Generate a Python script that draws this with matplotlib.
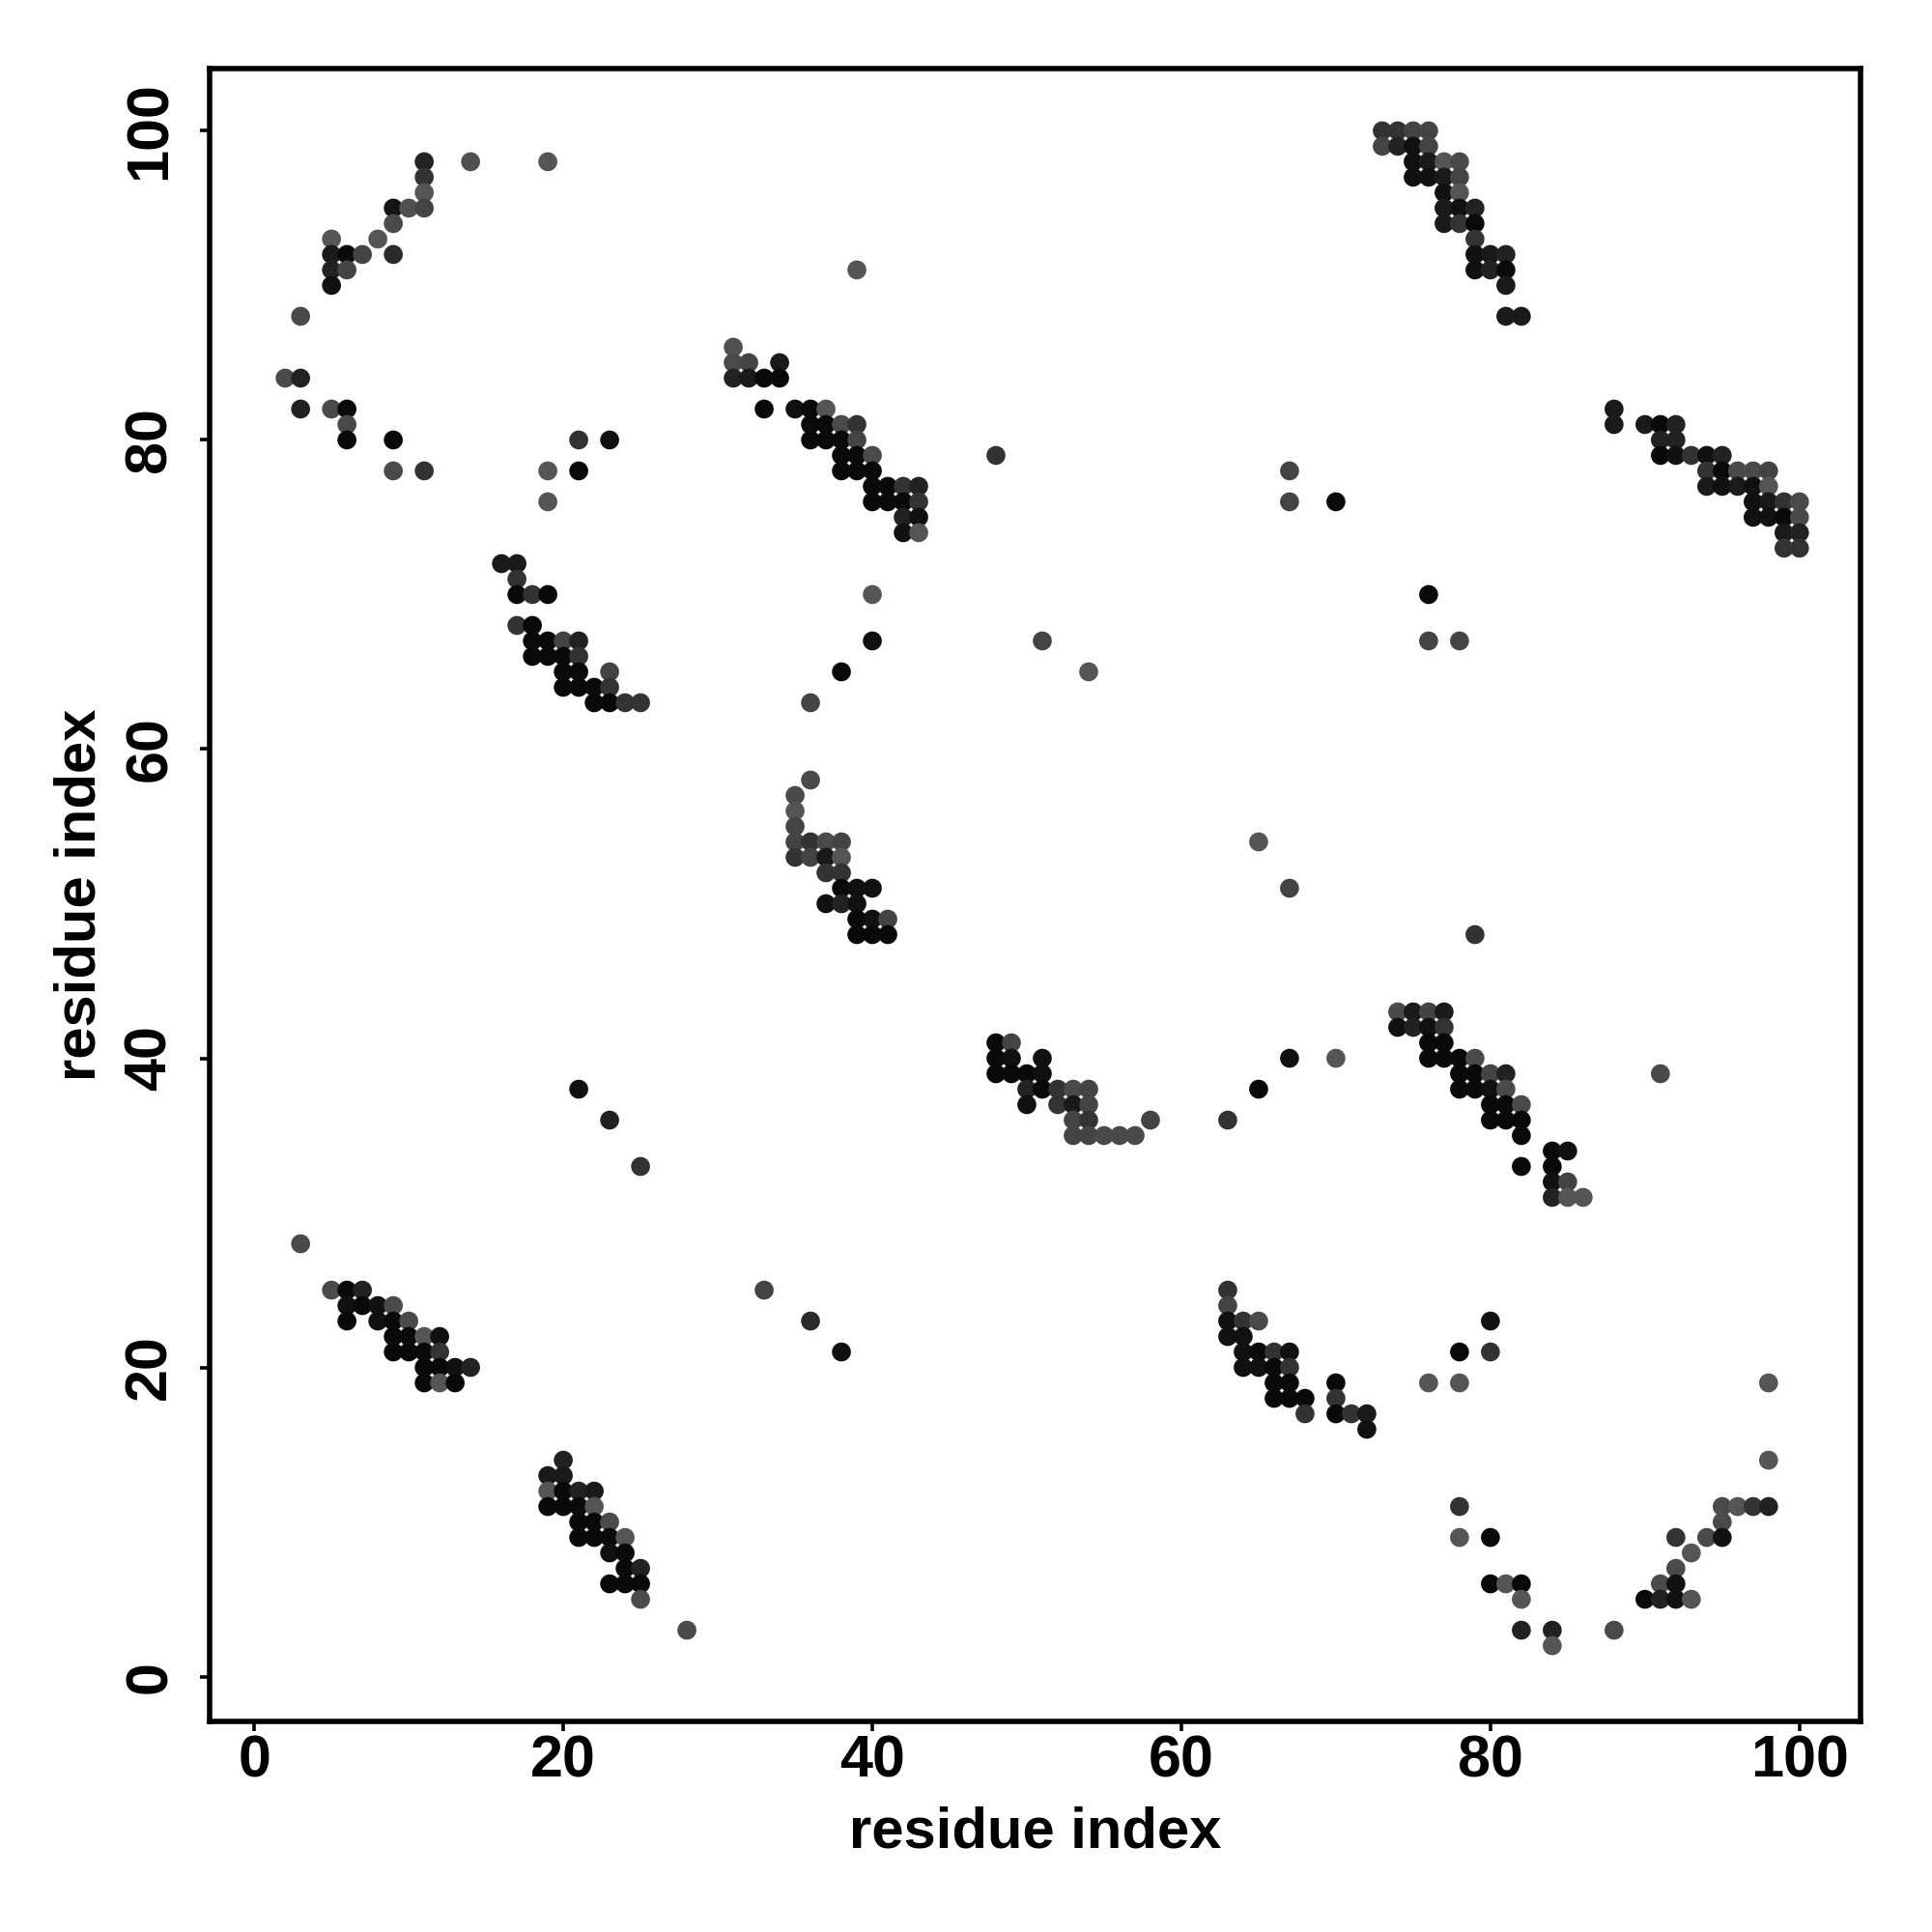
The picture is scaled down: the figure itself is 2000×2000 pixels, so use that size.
import matplotlib
matplotlib.use("Agg")
import matplotlib.pyplot as plt

plt.rcParams['font.family'] = ['Liberation Sans', 'DejaVu Sans']

# rows (y residue index), columns (x residue index) per row, and gray level (0-255) per point
contact_rows = [100, 99, 98, 97, 96, 95, 94, 93, 92, 91, 90, 88, 86, 85, 84, 82, 81, 80, 79, 78,
                77, 76, 75, 74, 73, 72, 71, 70, 68, 67, 66, 65, 64, 63, 58, 57, 56, 55, 54, 53,
                52, 51, 50, 49, 48, 43, 42, 41, 40, 39, 38, 37, 36, 35, 34, 33, 32, 31, 28, 25,
                24, 23, 22, 21, 20, 19, 18, 17, 16, 14, 13, 12, 11, 10, 9, 8, 7, 6, 5, 3, 2]

contact_cols = [
    [73, 74, 75, 76],
    [73, 74, 75, 76],
    [11, 14, 19, 75, 76, 77, 78],
    [11, 75, 76, 77, 78],
    [11, 77, 78],
    [9, 10, 11, 77, 78, 79],
    [9, 77, 78, 79],
    [5, 8, 79],
    [5, 6, 7, 9, 79, 80, 81],
    [5, 6, 39, 79, 80, 81],
    [5, 81],
    [3, 81, 82],
    [31],
    [31, 32, 34],
    [2, 3, 31, 32, 33, 34],
    [3, 5, 6, 33, 35, 36, 37, 88],
    [6, 36, 37, 38, 39, 88, 90, 91, 92],
    [6, 9, 21, 23, 36, 37, 38, 39, 91, 92],
    [38, 39, 40, 48, 91, 92, 93, 94, 95],
    [9, 11, 19, 21, 38, 39, 40, 67, 94, 95, 96, 97, 98],
    [40, 41, 42, 43, 94, 95, 96, 97, 98],
    [19, 40, 41, 42, 43, 67, 70, 97, 98, 99, 100],
    [42, 43, 97, 98, 99, 100],
    [42, 43, 99, 100],
    [99, 100],
    [16, 17],
    [17],
    [17, 18, 19, 40, 76],
    [17, 18],
    [18, 19, 20, 21, 40, 51, 76, 78],
    [18, 19, 20, 21],
    [20, 21, 23, 38, 54],
    [20, 21, 22, 23],
    [22, 23, 24, 25, 36],
    [36],
    [35],
    [35],
    [35],
    [35, 36, 37, 38, 65],
    [35, 36, 37, 38],
    [37, 38],
    [38, 39, 40, 67],
    [37, 38, 39],
    [39, 40, 41],
    [39, 40, 41, 79],
    [74, 75, 76, 77],
    [74, 75, 76, 77],
    [48, 49, 76, 77],
    [48, 49, 51, 67, 70, 76, 77, 78, 79],
    [48, 49, 50, 51, 78, 79, 80, 81, 91],
    [21, 50, 51, 52, 53, 54, 65, 78, 79, 80, 81],
    [50, 52, 53, 54, 80, 81, 82],
    [23, 53, 54, 58, 63, 80, 81, 82],
    [53, 54, 55, 56, 57, 82],
    [84, 85],
    [25, 82, 84],
    [84, 85],
    [84, 85, 86],
    [3],
    [5, 6, 7, 33, 63],
    [6, 7, 8, 9, 63],
    [6, 8, 9, 10, 36, 63, 64, 65, 80],
    [9, 10, 11, 12, 63, 64],
    [9, 10, 11, 12, 38, 64, 65, 66, 67, 78, 80],
    [11, 12, 13, 14, 64, 65, 66, 67],
    [11, 12, 13, 66, 67, 70, 76, 78, 98],
    [66, 67, 68, 70],
    [68, 70, 71, 72],
    [72],
    [20, 98],
    [19, 20],
    [19, 20, 21, 22],
    [19, 20, 21, 22, 78, 95, 96, 97, 98],
    [21, 22, 23, 95],
    [21, 22, 23, 24, 78, 80, 92, 94, 95],
    [23, 24, 93],
    [24, 25, 92],
    [23, 24, 25, 80, 81, 82, 91, 92],
    [25, 82, 90, 91, 92, 93],
    [28, 82, 84, 88],
    [84],
]

contact_gray = [
    [51, 51, 68, 68],
    [68, 34, 17, 68],
    [34, 80, 85, 17, 26, 85, 74],
    [51, 17, 17, 26, 68],
    [85, 17, 85],
    [20, 80, 68, 26, 17, 34],
    [74, 26, 51, 10],
    [85, 85, 51],
    [26, 10, 68, 42, 17, 26, 34],
    [34, 68, 85, 17, 34, 10],
    [17, 26],
    [74, 26, 26],
    [80],
    [74, 68, 26],
    [74, 34, 34, 26, 10, 10],
    [34, 74, 10, 10, 17, 10, 85, 26],
    [74, 10, 10, 74, 51, 26, 26, 10, 34],
    [10, 10, 51, 17, 10, 10, 10, 68, 34, 34],
    [10, 10, 74, 51, 10, 17, 51, 17, 34],
    [74, 51, 85, 10, 10, 10, 10, 68, 51, 10, 74, 74, 68],
    [10, 10, 51, 34, 26, 17, 26, 17, 85],
    [85, 10, 10, 10, 51, 68, 10, 17, 26, 51, 74],
    [34, 17, 17, 17, 10, 74],
    [17, 85, 26, 34],
    [51, 51],
    [26, 26],
    [51],
    [10, 51, 10, 85, 10],
    [51, 10],
    [10, 10, 68, 34, 17, 68, 68, 68],
    [10, 10, 10, 51],
    [10, 10, 68, 10, 85],
    [10, 10, 10, 51],
    [10, 8, 51, 51, 68],
    [74],
    [74],
    [85],
    [68],
    [68, 51, 74, 68, 85],
    [51, 68, 26, 85],
    [51, 51],
    [10, 17, 17, 68],
    [17, 34, 17],
    [10, 17, 68],
    [10, 10, 10, 51],
    [74, 26, 68, 26],
    [17, 34, 17, 51],
    [10, 68, 10, 10],
    [10, 17, 17, 17, 85, 10, 10, 10, 74],
    [10, 10, 10, 17, 10, 10, 68, 34, 74],
    [17, 34, 10, 51, 74, 68, 10, 10, 10, 17, 74],
    [17, 51, 26, 68, 10, 10, 74],
    [34, 68, 51, 68, 51, 10, 10, 10],
    [68, 68, 74, 74, 74, 10],
    [10, 17],
    [51, 10, 10],
    [17, 68],
    [34, 85, 85],
    [74],
    [74, 10, 34, 68, 51],
    [17, 10, 17, 74, 68],
    [10, 17, 10, 74, 42, 17, 51, 74, 17],
    [10, 10, 85, 17, 17, 17],
    [10, 10, 10, 51, 17, 17, 10, 51, 17, 10, 51],
    [10, 10, 17, 34, 17, 17, 10, 51],
    [10, 85, 10, 10, 10, 10, 85, 85, 85],
    [10, 10, 10, 51],
    [51, 10, 51, 26],
    [17],
    [34, 85],
    [26, 26],
    [85, 10, 34, 26],
    [10, 10, 10, 85, 51, 74, 85, 51, 34],
    [10, 10, 74, 74],
    [10, 10, 10, 85, 85, 10, 51, 74, 17],
    [17, 10, 85],
    [10, 34, 74],
    [10, 10, 10, 10, 85, 10, 74, 17],
    [74, 85, 10, 34, 17, 85],
    [74, 34, 34, 74],
    [85],
]

tick_values = [0, 20, 40, 60, 80, 100]
axis_title = "residue index"

# flatten
xs, ys, cols = [], [], []
for r, cs, gs in zip(contact_rows, contact_cols, contact_gray):
    assert len(cs) == len(gs), (r, cs, gs)
    for c, g in zip(cs, gs):
        xs.append(c)
        ys.append(r)
        v = g / 255.0
        cols.append((v, v, v))

fig = plt.figure(figsize=(10, 10), dpi=200)
ax = fig.add_axes([0.1084, 0.109, 0.8546, 0.8553])
ax.scatter(xs, ys, s=50, c=cols, linewidths=0, zorder=3)

ax.set_xlim(-2.9, 103.95)
ax.set_ylim(-2.9, 104.0)
ax.set_xticks(tick_values)
ax.set_yticks(tick_values)
ax.set_xticklabels([str(t) for t in tick_values], fontsize=22, fontweight='bold')
ax.set_yticklabels([str(t) for t in tick_values], fontsize=22, fontweight='bold',
                   rotation=90, va='center')
ax.tick_params(axis='both', direction='out', length=3.5, width=1.3, color='black')
ax.tick_params(axis='x', pad=1.5)
ax.tick_params(axis='y', pad=8)
for sp in ax.spines.values():
    sp.set_linewidth(2.0)
    sp.set_color('black')

ax.set_xlabel(axis_title, fontsize=21.5, fontweight='bold')
ax.set_ylabel(axis_title, fontsize=21.5, fontweight='bold')
ax.xaxis.set_label_coords(0.5, -0.0509)
ax.yaxis.set_label_coords(-0.062, 0.5)

fig.savefig("out.png", dpi=200, facecolor='white')
